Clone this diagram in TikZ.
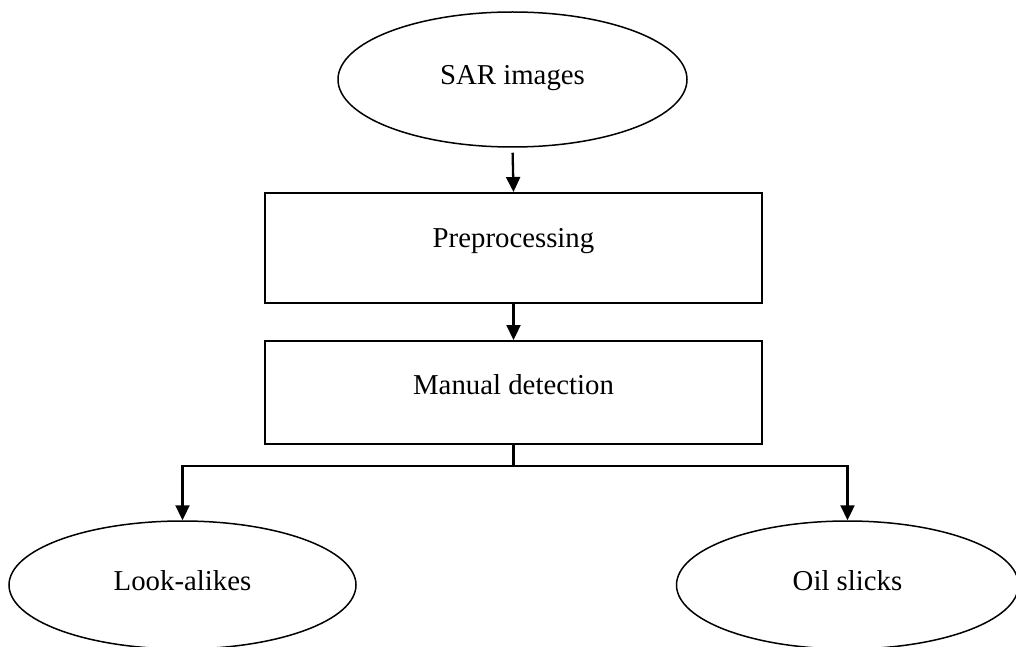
\documentclass[tikz,border=0pt]{standalone}
\usepackage{fontspec}
\setmainfont{Liberation Serif}
\usetikzlibrary{arrows.meta,shapes.geometric}
\begin{document}
\begin{tikzpicture}[x=1pt,y=-1pt,
  lbl/.style={font=\fontsize{28.8}{34}\selectfont, text height=20pt},
  ell/.style={lbl, text depth=9pt, draw, line width=1.5pt, ellipse, inner sep=0pt, minimum width=348pt, minimum height=128pt},
  stepbox/.style={lbl, text depth=22pt, draw, line width=2pt, rectangle, inner sep=0pt, minimum width=497pt},
  conn/.style={line width=2.3pt},
  arr/.style={conn, -{Triangle[length=15pt, width=14pt]}}]
\useasboundingbox (0,0) rectangle (1016,647);
\node[ell, minimum width=349pt, minimum height=135pt] (sar) at (512.5,79.5) {SAR images};
\node[stepbox, minimum height=110pt] (pre) at (513.5,248) {Preprocessing};
\node[stepbox, minimum height=103pt, text depth=17pt] (man) at (513.5,392.5) {Manual detection};
\node[ell, minimum width=347pt] (la) at (182.5,585) {Look-alikes};
\node[ell, minimum width=342pt] (oil) at (847.5,585) {Oil slicks};
\draw[arr, shorten <=5pt] (sar.south) -- (pre.north);
\draw[arr] (pre.south) -- (man.north);
\draw[arr] (man.south) -- ++(0,21) coordinate (br) -| (la.north);
\draw[arr] (br) -| (oil.north);
\end{tikzpicture}
\end{document}
